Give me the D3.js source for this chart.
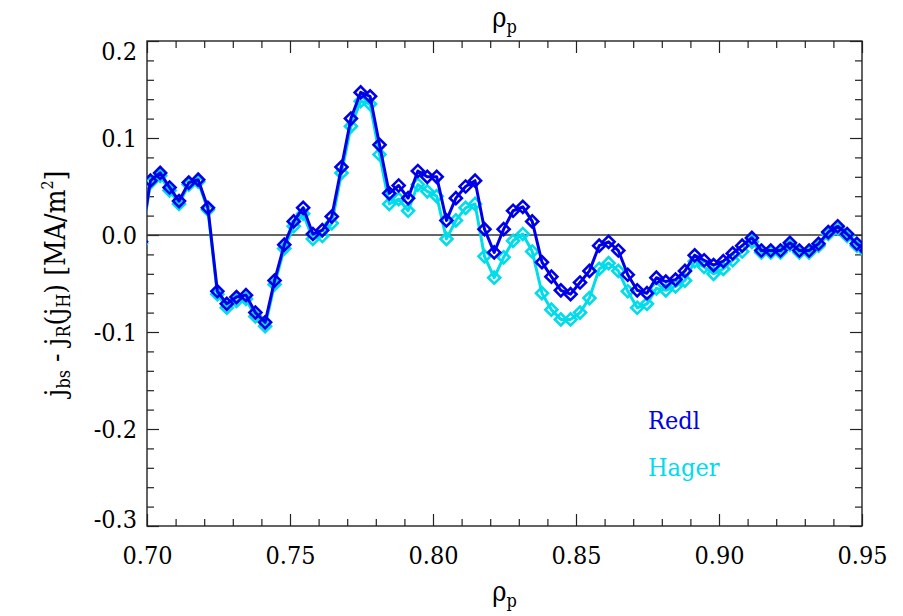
<!DOCTYPE html>
<html>
<head>
<meta charset="utf-8">
<script src="https://cdn.jsdelivr.net/npm/d3@7"></script>
<style>
  body { margin: 0; background: #fff; }
</style>
</head>
<body>
<div id="graph"></div>
<script>
// normalised poloidal flux radius of each profile point
var rho = [
  0.6979, 0.7012, 0.7046, 0.7079, 0.7112, 0.7146, 0.7179, 0.7213, 0.7246, 0.7279,
  0.7313, 0.7346, 0.7379, 0.7413, 0.7446, 0.7480, 0.7513, 0.7546, 0.7580, 0.7613,
  0.7646, 0.7680, 0.7713, 0.7747, 0.7780, 0.7813, 0.7847, 0.7880, 0.7913, 0.7947,
  0.7980, 0.8013, 0.8047, 0.8080, 0.8114, 0.8147, 0.8180, 0.8214, 0.8247, 0.8280,
  0.8314, 0.8347, 0.8381, 0.8414, 0.8447, 0.8481, 0.8514, 0.8547, 0.8581, 0.8614,
  0.8648, 0.8681, 0.8714, 0.8748, 0.8781, 0.8814, 0.8848, 0.8881, 0.8915, 0.8948,
  0.8981, 0.9015, 0.9048, 0.9081, 0.9115, 0.9148, 0.9181, 0.9215, 0.9248, 0.9281,
  0.9315, 0.9348, 0.9382, 0.9415, 0.9448, 0.9482, 0.9515
];

// j_bs - j_R(j_H) in MA/m^2
var redl = [
  -0.007, 0.056, 0.064, 0.049, 0.035, 0.054, 0.057, 0.028, -0.058, -0.071,
  -0.064, -0.062, -0.080, -0.090, -0.047, -0.010, 0.014, 0.028, 0.001, 0.005,
  0.019, 0.070, 0.120, 0.147, 0.143, 0.093, 0.043, 0.051, 0.038, 0.066,
  0.060, 0.060, 0.015, 0.038, 0.050, 0.056, 0.006, -0.018, 0.006, 0.025,
  0.029, 0.014, -0.028, -0.043, -0.057, -0.061, -0.049, -0.037, -0.011, -0.007,
  -0.016, -0.041, -0.057, -0.060, -0.044, -0.048, -0.046, -0.037, -0.021, -0.026,
  -0.031, -0.027, -0.019, -0.011, -0.003, -0.016, -0.016, -0.016, -0.008, -0.016,
  -0.016, -0.009, 0.003, 0.009, 0.001, -0.009, -0.016
];

var hager = [
  -0.009, 0.054, 0.061, 0.046, 0.032, 0.052, 0.055, 0.026, -0.061, -0.075,
  -0.068, -0.066, -0.084, -0.094, -0.051, -0.014, 0.009, 0.022, -0.004, -0.001,
  0.012, 0.064, 0.112, 0.138, 0.135, 0.083, 0.032, 0.037, 0.025, 0.052,
  0.045, 0.040, -0.004, 0.015, 0.028, 0.032, -0.022, -0.044, -0.023, -0.006,
  0.001, -0.017, -0.060, -0.077, -0.087, -0.087, -0.080, -0.065, -0.035, -0.029,
  -0.037, -0.058, -0.075, -0.071, -0.055, -0.057, -0.053, -0.047, -0.027, -0.033,
  -0.040, -0.035, -0.026, -0.017, -0.007, -0.018, -0.018, -0.018, -0.010, -0.018,
  -0.018, -0.011, 0.001, 0.007, -0.001, -0.011, -0.018
];

var xTicks = [0.70, 0.75, 0.80, 0.85, 0.90, 0.95];
var yTicks = [0.2, 0.1, 0.0, -0.1, -0.2, -0.3];
var seriesNames = ["Redl", "Hager"];

var blue = "#0000e8";
var cyan = "#00dcea";
var serif = '"DejaVu Serif Condensed", "DejaVu Serif", "Liberation Serif", serif';

var margin = { left: 147, top: 41 };
var width = 715, height = 485;

var svg = d3.select("#graph").append("svg")
  .attr("width", 903)
  .attr("height", 616)
  .attr("font-family", serif);

var g = svg.append("g").attr("transform", "translate(" + margin.left + "," + margin.top + ")");

var x = d3.scaleLinear().domain([0.70, 0.95]).range([0, width]);
var y = d3.scaleLinear().domain([-0.3, 0.2]).range([height, 0]);

var xMinor = x.ticks(25).filter(function (d) { return xTicks.indexOf(+d.toFixed(2)) < 0; });
var yMinor = y.ticks(25).filter(function (d) { return Math.abs(d * 10 - Math.round(d * 10)) > 1e-6; });

// plain hyphen for negatives
function fmt(spec) {
  var f = d3.format(spec);
  return function (d) { return f(d).replace("\u2212", "-"); };
}

function styleAxis(sel) {
  sel.attr("font-family", serif).attr("font-size", 25);
  sel.select(".domain").remove();
  sel.selectAll("line").attr("stroke", "#222").attr("stroke-width", 1.2);
  sel.selectAll("text").attr("fill", "#000");
}

// ticks point inward on all four sides
g.append("g").attr("transform", "translate(0," + height + ")")
  .call(d3.axisBottom(x).tickValues(xTicks).tickSize(-12).tickSizeOuter(0).tickPadding(20).tickFormat(fmt(".2f")))
  .call(styleAxis);
g.append("g").attr("transform", "translate(0," + height + ")")
  .call(d3.axisBottom(x).tickValues(xMinor).tickSize(-7).tickSizeOuter(0).tickFormat(""))
  .call(styleAxis);
g.append("g")
  .call(d3.axisTop(x).tickValues(xTicks).tickSize(-12).tickSizeOuter(0).tickFormat(""))
  .call(styleAxis);
g.append("g")
  .call(d3.axisTop(x).tickValues(xMinor).tickSize(-7).tickSizeOuter(0).tickFormat(""))
  .call(styleAxis);

var yAxisG = g.append("g")
  .call(d3.axisLeft(y).tickValues(yTicks).tickSize(-12).tickSizeOuter(0).tickPadding(10).tickFormat(fmt(".1f")))
  .call(styleAxis);
// end labels are pulled inside the frame
yAxisG.selectAll(".tick text").attr("y", function (d) {
  return d === 0.2 ? 10 : d === -0.3 ? -7 : 0;
});
g.append("g")
  .call(d3.axisLeft(y).tickValues(yMinor).tickSize(-7).tickSizeOuter(0).tickFormat(""))
  .call(styleAxis);
g.append("g").attr("transform", "translate(" + width + ",0)")
  .call(d3.axisRight(y).tickValues(yTicks).tickSize(-12).tickSizeOuter(0).tickFormat(""))
  .call(styleAxis);
g.append("g").attr("transform", "translate(" + width + ",0)")
  .call(d3.axisRight(y).tickValues(yMinor).tickSize(-7).tickSizeOuter(0).tickFormat(""))
  .call(styleAxis);

g.append("rect")
  .attr("width", width)
  .attr("height", height)
  .attr("fill", "none")
  .attr("stroke", "#222")
  .attr("stroke-width", 1.4);

g.append("line")
  .attr("x1", x(0.70)).attr("x2", x(0.95))
  .attr("y1", y(0)).attr("y2", y(0))
  .attr("stroke", "#333")
  .attr("stroke-width", 1.3);

g.append("clipPath").attr("id", "clip")
  .append("rect").attr("width", width).attr("height", height);

var plot = g.append("g").attr("clip-path", "url(#clip)");

var line = d3.line()
  .x(function (d) { return x(d[0]); })
  .y(function (d) { return y(d[1]); });

var diamond = d3.symbol().type(d3.symbolSquare).size(72);

function drawSeries(values, color) {
  var pts = rho.map(function (r, i) { return [r, values[i]]; });
  plot.append("path")
    .attr("d", line(pts))
    .attr("fill", "none")
    .attr("stroke", color)
    .attr("stroke-width", 3)
    .attr("stroke-linejoin", "round");
  plot.selectAll(null)
    .data(pts)
    .enter().append("path")
    .attr("d", diamond)
    .attr("transform", function (d) { return "translate(" + x(d[0]) + "," + y(d[1]) + ") rotate(45)"; })
    .attr("fill", "none")
    .attr("stroke", color)
    .attr("stroke-width", 2.6);
}

drawSeries(hager, cyan);
drawSeries(redl, blue);

// legend
svg.append("text").attr("x", 648).attr("y", 429)
  .attr("fill", blue).attr("font-size", 25).text(seriesNames[0]);
svg.append("text").attr("x", 648).attr("y", 476)
  .attr("fill", cyan).attr("font-size", 25).text(seriesNames[1]);

// axis titles
function rhoTitle(yPos) {
  var t = svg.append("text")
    .attr("x", margin.left + width / 2)
    .attr("y", yPos)
    .attr("text-anchor", "middle")
    .attr("font-size", 27);
  t.append("tspan").text("ρ");
  t.append("tspan").attr("dy", 6).attr("font-size", 18).text("p");
}
rhoTitle(27);
rhoTitle(601);

var yTitle = svg.append("text")
  .attr("transform", "translate(65," + (margin.top + height / 2) + ") rotate(-90)")
  .attr("text-anchor", "middle")
  .attr("font-size", 28);
yTitle.append("tspan").text("j");
yTitle.append("tspan").attr("dy", 5).attr("font-size", 18).text("bs");
yTitle.append("tspan").attr("dy", -5).text(" - j");
yTitle.append("tspan").attr("dy", 5).attr("font-size", 18).text("R");
yTitle.append("tspan").attr("dy", -5).text("(j");
yTitle.append("tspan").attr("dy", 5).attr("font-size", 18).text("H");
yTitle.append("tspan").attr("dy", -5).text(") [MA/m");
yTitle.append("tspan").attr("dy", -12).attr("font-size", 16).text("2");
yTitle.append("tspan").attr("dy", 12).text("]");
</script>
</body>
</html>
